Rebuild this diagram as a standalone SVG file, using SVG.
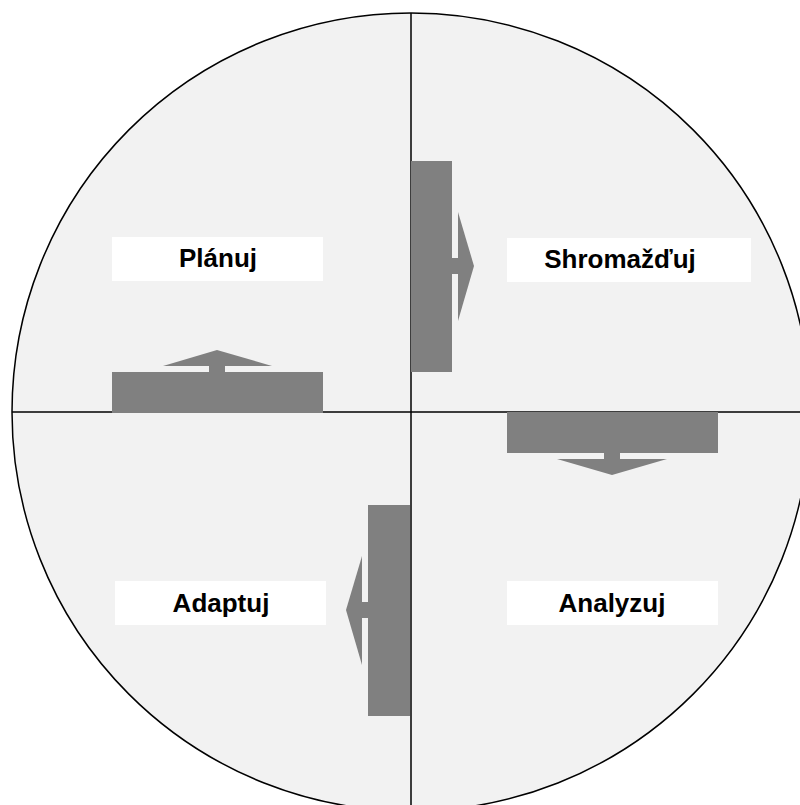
<svg xmlns="http://www.w3.org/2000/svg" width="800" height="805" viewBox="0 0 800 805">
  <style>
    .disc { fill: #f2f2f2; stroke: #000; stroke-width: 1.5; }
    .axis { stroke: #000; stroke-width: 1.5; fill: none; }
    .bar { fill: #808080; }
    .label-box { fill: #ffffff; }
    .label { font-family: "Liberation Sans", Arial, sans-serif; font-weight: bold; font-size: 26px; fill: #000; text-anchor: middle; }
  </style>
  <rect width="800" height="805" fill="#ffffff"/>
  <circle class="disc" cx="411" cy="412" r="399"/>

  <g id="connectors">
    <line class="axis" x1="411" y1="13" x2="411" y2="811"/>
    <line class="axis" x1="12" y1="412" x2="810" y2="412"/>

    <!-- right-pointing arrow: Plánuj quadrant to Shromažďuj -->
    <g id="arrow-right">
      <rect class="bar" x="411" y="161" width="41" height="211"/>
      <rect class="bar" x="452" y="258" width="6" height="16"/>
      <polygon class="bar" points="458,212 474,266 458,321"/>
    </g>

    <!-- down-pointing arrow -->
    <g id="arrow-down">
      <rect class="bar" x="507" y="412" width="211" height="41"/>
      <rect class="bar" x="604" y="453" width="16" height="6"/>
      <polygon class="bar" points="557,459 667,459 612,475"/>
    </g>

    <!-- left-pointing arrow -->
    <g id="arrow-left">
      <rect class="bar" x="368" y="505" width="42" height="211"/>
      <rect class="bar" x="362" y="602" width="6" height="16"/>
      <polygon class="bar" points="362,556 346,610 362,665"/>
    </g>

    <!-- up-pointing arrow -->
    <g id="arrow-up">
      <rect class="bar" x="112" y="372" width="211" height="41"/>
      <rect class="bar" x="209" y="366" width="16" height="6"/>
      <polygon class="bar" points="163,366 272,366 217,350"/>
    </g>
  </g>

  <g id="planuj">
    <rect class="label-box" x="112" y="237" width="211" height="44"/>
    <text class="label" x="218" y="267">Plánuj</text>
  </g>

  <g id="shromazduj">
    <rect class="label-box" x="507" y="238" width="244" height="44"/>
    <text class="label" x="620" y="268">Shromažďuj</text>
  </g>

  <g id="analyzuj">
    <rect class="label-box" x="507" y="581" width="211" height="44"/>
    <text class="label" x="612" y="612">Analyzuj</text>
  </g>

  <g id="adaptuj">
    <rect class="label-box" x="115" y="581" width="211" height="44"/>
    <text class="label" x="221" y="612">Adaptuj</text>
  </g>
</svg>
